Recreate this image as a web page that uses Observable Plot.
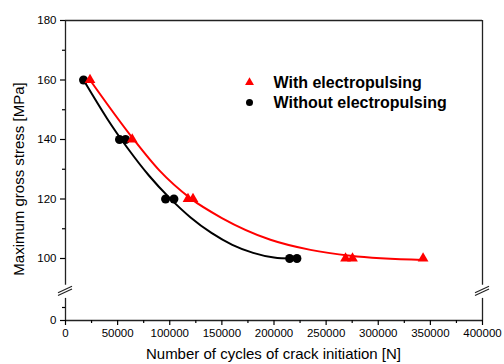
<!DOCTYPE html>
<html>
<head>
<meta charset="utf-8">
<script src="https://cdn.jsdelivr.net/npm/d3@7"></script>
<script src="https://cdn.jsdelivr.net/npm/@observablehq/plot@0.6"></script>
<style>
  html, body { margin: 0; padding: 0; background: #fff; }
  svg { display: block; }
</style>
</head>
<body>
<div id="chart"></div>
<script>
// Measured points
const withN = [23500, 64000, 117500, 122300, 268600, 275300, 343000];
const withS = [160, 140, 120, 120, 100, 100, 100];
const withoutN = [17300, 51800, 57600, 96000, 104000, 215000, 222000];
const withoutS = [160, 140, 140, 120, 120, 100, 100];

// Fitted curves
const withFitN = [23500, 64300, 90000, 119900, 150000, 196600, 235000, 273400, 343000];
const withFitS = [160, 140.5, 129.6, 120.2, 113.6, 106.3, 102.9, 100.9, 99.5];
const withoutFitN = [17300, 40000, 60000, 80000, 100000, 120000, 140000, 160000, 180000, 200000, 216000];
const withoutFitS = [160, 147, 136.9, 127.9, 120.3, 113.8, 108.6, 104.6, 101.9, 100.3, 100];

// Tick labels
const xMajor = [0, 50000, 100000, 150000, 200000, 250000, 300000, 350000, 400000];
const xMinor = [25000, 75000, 125000, 175000, 225000, 275000, 325000, 375000];
const yMajor = [0, 100, 120, 140, 160, 180];
const yMinor = [5, 110, 130, 150, 170];

const seriesNames = ["With electropulsing", "Without electropulsing"];

const zip = (xs, ys) => xs.map((x, i) => ({x, y: ys[i]}));
const withPts = zip(withN, withS);
const withoutPts = zip(withoutN, withoutS);
const withFit = zip(withFitN, withFitS);
const withoutFit = zip(withoutFitN, withoutFitS);

// broken y axis: 0..10 compressed, 10..90 collapsed into a gap, 90..180 linear
const LOW = 10, HIGH = 90, LOWSPAN = 8.74, GAP = 2.1;
const breakY = v => v <= LOW ? v * LOWSPAN / LOW
  : v >= HIGH ? v - HIGH + LOWSPAN + GAP
  : LOWSPAN + (v - LOW) * GAP / (HIGH - LOW);

const RED = "#ff0000";
const font = "'Liberation Sans', Arial, sans-serif";

const chart = Plot.plot({
  width: 504,
  height: 364,
  marginLeft: 65,
  marginRight: 22,
  marginTop: 20,
  marginBottom: 44,
  style: {fontFamily: font, fontSize: "11px", color: "#000", background: "#fff"},
  x: {domain: [0, 400000]},
  y: {transform: breakY},
  marks: [
    // frame
    Plot.ruleY([180], {stroke: "#222", strokeWidth: 1.3}),
    Plot.ruleY([0], {stroke: "#222", strokeWidth: 1.3}),
    Plot.ruleX([0, 400000], {y1: 91, y2: 180, stroke: "#222", strokeWidth: 1.3}),
    Plot.ruleX([0, 400000], {y1: 0, y2: 8.5, stroke: "#222", strokeWidth: 1.3}),
    // axes
    Plot.axisX(xMajor, {tickSize: 5, tickPadding: 3, tickFormat: d => String(d), label: null, fontSize: 11.5, strokeWidth: 1.2}),
    Plot.axisX(xMinor, {tickSize: 3, tickFormat: () => "", label: null, strokeWidth: 1.2}),
    Plot.axisY(yMajor, {tickSize: 5, tickPadding: 4, tickFormat: d => String(d), label: null, fontSize: 11.5, strokeWidth: 1.2}),
    Plot.axisY(yMinor, {tickSize: 3, tickFormat: () => "", label: null, strokeWidth: 1.2}),
    // fit lines
    Plot.line(withoutFit, {x: "x", y: "y", stroke: "#000", strokeWidth: 2, curve: "natural"}),
    Plot.line(withFit, {x: "x", y: "y", stroke: RED, strokeWidth: 2, curve: "monotone-x"}),
    // points
    Plot.dot(withoutPts, {x: "x", y: "y", r: 4.5, fill: "#000", stroke: "none"}),
    Plot.dot(withPts, {x: "x", y: "y", r: 4, symbol: "triangle", fill: RED, stroke: "none"}),
    // legend
    Plot.dot([seriesNames[0]], {frameAnchor: "top-left", dx: 184, dy: 62, r: 3.3, symbol: "triangle", fill: RED, stroke: "none"}),
    Plot.dot([seriesNames[1]], {frameAnchor: "top-left", dx: 184, dy: 82, r: 3.5, fill: "#000", stroke: "none"}),
    Plot.text([seriesNames[0]], {text: d => d, frameAnchor: "top-left", dx: 208, dy: 62.5, textAnchor: "start", lineAnchor: "middle", fontSize: 16, fontWeight: "bold", fill: "#000"}),
    Plot.text([seriesNames[1]], {text: d => d, frameAnchor: "top-left", dx: 208, dy: 82.5, textAnchor: "start", lineAnchor: "middle", fontSize: 16, fontWeight: "bold", fill: "#000"})
  ]
});

document.getElementById("chart").appendChild(chart);

// axis titles and break marks
const svg = d3.select(chart);
const xs = chart.scale("x"), ys = chart.scale("y");
const applyIncludesTransform = Math.abs(ys.apply(180) - 20) < 1;
const yPx = v => applyIncludesTransform ? ys.apply(v) : ys.apply(breakY(v));
const yb = (yPx(LOW) + yPx(HIGH)) / 2;
const g = svg.append("g").attr("stroke", "#222").attr("stroke-width", 1.2);
for (const xv of [0, 400000]) {
  const px = xs.apply(xv);
  for (const off of [-1.4, 1.4]) {
    g.append("line")
      .attr("x1", px - 7).attr("y1", yb + 3.2 + off)
      .attr("x2", px + 7).attr("y2", yb - 3.2 + off);
  }
}
const cx = (xs.apply(0) + xs.apply(400000)) / 2;
svg.append("text")
  .attr("x", cx).attr("y", 359)
  .attr("text-anchor", "middle")
  .attr("font-family", font).attr("font-size", 15).attr("fill", "#000")
  .text("Number of cycles of crack initiation [N]");
svg.append("text")
  .attr("transform", `translate(24,179) rotate(-90)`)
  .attr("text-anchor", "middle")
  .attr("font-family", font).attr("font-size", 15).attr("fill", "#000")
  .text("Maximum gross stress [MPa]");
</script>
</body>
</html>
